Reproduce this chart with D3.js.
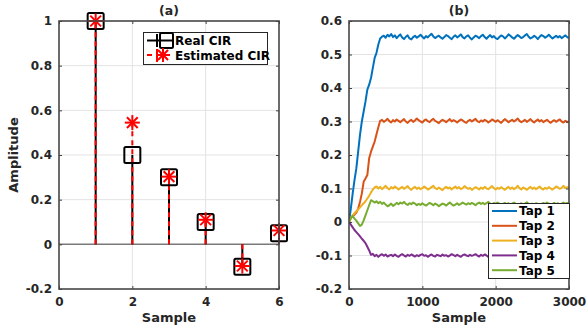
<!DOCTYPE html>
<html>
<head>
<meta charset="utf-8">
<script src="https://cdn.jsdelivr.net/npm/d3@7"></script>
<style>
  body { margin: 0; background: #fff; }
  svg { display: block; font-family: "DejaVu Sans", sans-serif; font-weight: bold; }
  .tick text { fill: #262626; font-size: 12px; font-weight: bold; font-family: "DejaVu Sans", sans-serif; }
  .tick line { stroke: #404040; stroke-width: 1; }
  .domain { display: none; }
</style>
</head>
<body>
<svg id="chart" width="587" height="329"></svg>
<script>
// panel (a): stem plot of channel impulse response
const sampleIdx = [1, 2, 3, 4, 5, 6];
const realCIR = [1, 0.4, 0.3, 0.1, -0.1, 0.05];
const estCIR = [1, 0.545, 0.303, 0.11, -0.097, 0.062];
const aXTicks = [0, 2, 4, 6];
const aYTicks = [-0.2, 0, 0.2, 0.4, 0.6, 0.8, 1];

// panel (b): tap convergence, one value every tapStep samples
const tapStep = 25;
const tapNames = ["Tap 1", "Tap 2", "Tap 3", "Tap 4", "Tap 5"];
const tap1 = [0, 0.04, 0.085, 0.125, 0.16, 0.21, 0.26, 0.3, 0.33, 0.36, 0.395, 0.41, 0.43, 0.46, 0.49, 0.505, 0.53, 0.548,
  0.553, 0.556, 0.550, 0.559, 0.554, 0.561, 0.552, 0.557, 0.549, 0.555,
  0.560, 0.551, 0.546, 0.553, 0.557, 0.548, 0.545, 0.552, 0.556, 0.550,
  0.554, 0.559, 0.553, 0.548, 0.555, 0.551, 0.557, 0.562, 0.554, 0.549,
  0.553, 0.556, 0.551, 0.547, 0.552, 0.558, 0.555, 0.550, 0.546, 0.553,
  0.557, 0.551, 0.555, 0.560, 0.552, 0.548, 0.554, 0.557, 0.550, 0.545,
  0.551, 0.556, 0.553, 0.549, 0.555, 0.559, 0.552, 0.547, 0.553, 0.558,
  0.551, 0.555, 0.549, 0.546, 0.552, 0.557, 0.554, 0.548, 0.553, 0.560,
  0.556, 0.551, 0.547, 0.553, 0.558, 0.554, 0.549, 0.552, 0.557, 0.561,
  0.553, 0.548, 0.551, 0.556, 0.552, 0.546, 0.553, 0.558, 0.555, 0.550,
  0.554, 0.559, 0.553, 0.548, 0.552, 0.556, 0.551, 0.555, 0.549, 0.553,
  0.557, 0.552, 0.549];
const tap2 = [0, 0.012, 0.018, 0.022, 0.028, 0.04, 0.06, 0.085, 0.12, 0.13, 0.14, 0.19, 0.21, 0.225, 0.24, 0.262, 0.283, 0.302,
  0.305, 0.299, 0.303, 0.308, 0.301, 0.297, 0.304, 0.300, 0.306, 0.302,
  0.298, 0.303, 0.307, 0.300, 0.296, 0.302, 0.305, 0.299, 0.303, 0.309,
  0.304, 0.300, 0.297, 0.303, 0.306, 0.301, 0.298, 0.304, 0.308, 0.302,
  0.299, 0.295, 0.301, 0.305, 0.302, 0.298, 0.303, 0.307, 0.300, 0.304,
  0.301, 0.297, 0.302, 0.306, 0.303, 0.299, 0.296, 0.302, 0.305, 0.300,
  0.304, 0.308, 0.301, 0.298, 0.303, 0.300, 0.305, 0.302, 0.297, 0.301,
  0.306, 0.303, 0.299, 0.304, 0.300, 0.296, 0.302, 0.307, 0.303, 0.298,
  0.302, 0.305, 0.300, 0.304, 0.309, 0.302, 0.298, 0.301, 0.305, 0.299,
  0.303, 0.307, 0.301, 0.297, 0.302, 0.306, 0.300, 0.304, 0.298, 0.302,
  0.305, 0.300, 0.296, 0.301, 0.304, 0.299, 0.303, 0.306, 0.300, 0.297,
  0.302, 0.298, 0.301];
const tap3 = [0, 0.012, 0.02, 0.026, 0.032, 0.037, 0.044, 0.05, 0.056, 0.062, 0.07, 0.078, 0.088, 0.097, 0.103, 0.106,
  0.100, 0.105, 0.098, 0.103, 0.108, 0.101, 0.097, 0.104, 0.100, 0.106,
  0.102, 0.097, 0.101, 0.105, 0.099, 0.103, 0.107, 0.100, 0.096, 0.102,
  0.105, 0.099, 0.103, 0.098, 0.101, 0.106, 0.102, 0.097, 0.100, 0.104,
  0.108, 0.101, 0.098, 0.103, 0.099, 0.095, 0.101, 0.105, 0.100, 0.103,
  0.097, 0.102, 0.106, 0.100, 0.104, 0.098, 0.101, 0.107, 0.103, 0.099,
  0.102, 0.096, 0.100, 0.104, 0.101, 0.097, 0.103, 0.099, 0.105, 0.100,
  0.098, 0.103, 0.107, 0.101, 0.097, 0.102, 0.099, 0.104, 0.100, 0.096,
  0.101, 0.105, 0.099, 0.103, 0.098, 0.102, 0.108, 0.101, 0.097, 0.103,
  0.100, 0.096, 0.101, 0.105, 0.099, 0.103, 0.098, 0.102, 0.106, 0.100,
  0.097, 0.102, 0.099, 0.104, 0.100, 0.097, 0.101, 0.106, 0.103, 0.099,
  0.102, 0.108, 0.101, 0.104, 0.103];
const tap4 = [0, -0.008, -0.016, -0.024, -0.03, -0.036, -0.043, -0.05, -0.056, -0.063, -0.074, -0.085, -0.098,
  -0.095, -0.102, -0.098, -0.104, -0.099, -0.096, -0.101, -0.097, -0.103, -0.100,
  -0.098, -0.102, -0.097, -0.101, -0.104, -0.099, -0.096, -0.100, -0.103, -0.098,
  -0.101, -0.097, -0.100, -0.103, -0.099, -0.102, -0.098, -0.096, -0.101, -0.099,
  -0.104, -0.100, -0.097, -0.101, -0.103, -0.098, -0.100, -0.102, -0.097, -0.101,
  -0.099, -0.103, -0.100, -0.096, -0.099, -0.102, -0.098, -0.101, -0.104, -0.099,
  -0.097, -0.100, -0.102, -0.098, -0.101, -0.099, -0.096, -0.100, -0.103, -0.098,
  -0.101, -0.097, -0.100, -0.104, -0.099, -0.102, -0.098, -0.100, -0.097, -0.101,
  -0.103, -0.099, -0.096, -0.100, -0.102, -0.098, -0.101, -0.099, -0.104, -0.100,
  -0.097, -0.101, -0.099, -0.102, -0.098, -0.096, -0.100, -0.103, -0.099, -0.101,
  -0.098, -0.102, -0.100, -0.097, -0.101, -0.104, -0.099, -0.100, -0.096, -0.101,
  -0.099, -0.103, -0.100, -0.097, -0.101, -0.098, -0.102, -0.099];
const tap5 = [0, 0.012, 0.018, 0.01, 0.004, -0.004, -0.012, -0.008, 0.005, 0.02, 0.035, 0.05, 0.065, 0.062,
  0.058, 0.062, 0.056, 0.060, 0.054, 0.058, 0.052, 0.047, 0.050, 0.055,
  0.048, 0.052, 0.057, 0.053, 0.058, 0.055, 0.060, 0.054, 0.051, 0.056,
  0.053, 0.058, 0.055, 0.050, 0.054, 0.051, 0.056, 0.052, 0.049, 0.053,
  0.057, 0.054, 0.050, 0.055, 0.052, 0.047, 0.051, 0.055, 0.053, 0.049,
  0.054, 0.058, 0.053, 0.049, 0.052, 0.056, 0.051, 0.054, 0.058, 0.055,
  0.052, 0.056, 0.053, 0.057, 0.054, 0.050, 0.055, 0.058, 0.054, 0.057,
  0.053, 0.056, 0.060, 0.055, 0.052, 0.057, 0.054, 0.058, 0.055, 0.051,
  0.054, 0.057, 0.053, 0.056, 0.052, 0.055, 0.058, 0.054, 0.050, 0.053,
  0.056, 0.052, 0.055, 0.059, 0.054, 0.051, 0.055, 0.052, 0.056, 0.053,
  0.049, 0.053, 0.057, 0.054, 0.058, 0.055, 0.051, 0.054, 0.057, 0.053,
  0.056, 0.052, 0.055, 0.058, 0.054, 0.057, 0.053];
const taps = [tap1, tap2, tap3, tap4, tap5];
const tapColors = ["#0072BD", "#D95319", "#EDB120", "#7E2F8E", "#77AC30"];
const bXTicks = [0, 1000, 2000, 3000];
const bYTicks = [-0.2, -0.1, 0, 0.1, 0.2, 0.3, 0.4, 0.5, 0.6];

const svg = d3.select("#chart");
svg.append("rect").attr("width", 587).attr("height", 329).attr("fill", "#fff");

const yTop = 21, yBottom = 289;
const gridColor = "#e3e3e3";
const boxColor = "#474747";

function drawFrame(g, x, y, xTicks, yTicks) {
  let [x0, x1] = x.range();
  g.append("g").selectAll("line").data(xTicks.filter(d => x(d) > x0 + 1 && x(d) < x1 - 1)).enter()
    .append("line")
    .attr("x1", d => x(d)).attr("x2", d => x(d))
    .attr("y1", yTop).attr("y2", yBottom)
    .attr("stroke", gridColor).attr("stroke-width", 1);
  g.append("g").selectAll("line").data(yTicks.filter(d => y(d) > yTop + 1 && y(d) < yBottom - 1)).enter()
    .append("line")
    .attr("x1", x0).attr("x2", x1)
    .attr("y1", d => y(d)).attr("y2", d => y(d))
    .attr("stroke", gridColor).attr("stroke-width", 1);
}

function drawAxes(g, x, y, xTicks, yTicks) {
  let [x0, x1] = x.range();
  let fmt = d => String(d);
  g.append("g").attr("transform", `translate(0,${yBottom})`)
    .call(d3.axisBottom(x).tickValues(xTicks).tickFormat(fmt).tickSizeInner(-3).tickSizeOuter(0).tickPadding(8));
  g.append("g").attr("transform", `translate(0,${yTop})`)
    .call(d3.axisTop(x).tickValues(xTicks).tickFormat("").tickSizeInner(-3).tickSizeOuter(0));
  g.append("g").attr("transform", `translate(${x0},0)`)
    .call(d3.axisLeft(y).tickValues(yTicks).tickFormat(fmt).tickSizeInner(-3).tickSizeOuter(0).tickPadding(7));
  g.append("g").attr("transform", `translate(${x1},0)`)
    .call(d3.axisRight(y).tickValues(yTicks).tickFormat("").tickSizeInner(-3).tickSizeOuter(0));
  g.append("rect")
    .attr("x", x0).attr("y", yTop)
    .attr("width", x1 - x0).attr("height", yBottom - yTop)
    .attr("fill", "none").attr("stroke", boxColor).attr("stroke-width", 1.6);
}

function label(text, x, y, size, rotate) {
  let t = svg.append("text")
    .attr("text-anchor", "middle")
    .attr("font-size", size)
    .attr("fill", "#262626")
    .text(text);
  if (rotate) t.attr("transform", `translate(${x},${y}) rotate(-90)`);
  else t.attr("x", x).attr("y", y);
}

function asterisk(sel, r) {
  let d = r * 0.72;
  sel.append("line").attr("x1", -r).attr("x2", r).attr("y1", 0).attr("y2", 0);
  sel.append("line").attr("x1", 0).attr("x2", 0).attr("y1", -r).attr("y2", r);
  sel.append("line").attr("x1", -d).attr("x2", d).attr("y1", -d).attr("y2", d);
  sel.append("line").attr("x1", -d).attr("x2", d).attr("y1", d).attr("y2", -d);
}

// ---- panel (a)
let xa = d3.scaleLinear().domain([0, 6]).range([59, 279]);
let ya = d3.scaleLinear().domain([-0.2, 1]).range([yBottom, yTop]);
let ga = svg.append("g");
drawFrame(ga, xa, ya, aXTicks, aYTicks);

// stem baseline
ga.append("line")
  .attr("x1", xa(0)).attr("x2", xa(6))
  .attr("y1", ya(0)).attr("y2", ya(0))
  .attr("stroke", "#7a7a7a").attr("stroke-width", 1.5);

ga.append("g").selectAll("line").data(sampleIdx).enter()
  .append("line")
  .attr("x1", d => xa(d)).attr("x2", d => xa(d))
  .attr("y1", ya(0)).attr("y2", (d, i) => ya(realCIR[i]))
  .attr("stroke", "#000").attr("stroke-width", 2);

ga.append("g").selectAll("line").data(sampleIdx).enter()
  .append("line")
  .attr("x1", d => xa(d)).attr("x2", d => xa(d))
  .attr("y1", ya(0)).attr("y2", (d, i) => ya(estCIR[i]))
  .attr("stroke", "#ff0000").attr("stroke-width", 2)
  .attr("stroke-dasharray", "5,4");

const sq = 16;
ga.append("g").selectAll("rect").data(sampleIdx).enter()
  .append("rect")
  .attr("x", d => xa(d) - sq / 2)
  .attr("y", (d, i) => ya(realCIR[i]) - sq / 2)
  .attr("width", sq).attr("height", sq).attr("rx", 1.5)
  .attr("fill", "none").attr("stroke", "#000").attr("stroke-width", 2);

ga.append("g").selectAll("g").data(sampleIdx).enter()
  .append("g")
  .attr("transform", (d, i) => `translate(${xa(d)},${ya(estCIR[i])})`)
  .attr("stroke", "#ff0000").attr("stroke-width", 2)
  .each(function () { asterisk(d3.select(this), 7.5); });

drawAxes(ga, xa, ya, aXTicks, aYTicks);

// legend (a)
let la = ga.append("g");
la.append("rect").attr("x", 143.5).attr("y", 32.5).attr("width", 124).attr("height", 32)
  .attr("fill", "#fff").attr("stroke", "#262626").attr("stroke-width", 1);
la.append("line").attr("x1", 147).attr("x2", 172).attr("y1", 40.5).attr("y2", 40.5)
  .attr("stroke", "#000").attr("stroke-width", 2);
la.append("line").attr("x1", 157).attr("x2", 157).attr("y1", 34).attr("y2", 47)
  .attr("stroke", "#000").attr("stroke-width", 2);
la.append("rect").attr("x", 160).attr("y", 33).attr("width", 13).attr("height", 15).attr("rx", 1.5)
  .attr("fill", "none").attr("stroke", "#000").attr("stroke-width", 2);
la.append("text").attr("x", 175).attr("y", 45).attr("font-size", 12).attr("fill", "#000").text("Real CIR");
la.append("line").attr("x1", 147).attr("x2", 172).attr("y1", 55).attr("y2", 55)
  .attr("stroke", "#ff0000").attr("stroke-width", 2).attr("stroke-dasharray", "5,4");
la.append("line").attr("x1", 157).attr("x2", 157).attr("y1", 49).attr("y2", 62)
  .attr("stroke", "#ff0000").attr("stroke-width", 2);
la.append("g").attr("transform", "translate(163,55)")
  .attr("stroke", "#ff0000").attr("stroke-width", 2)
  .each(function () { asterisk(d3.select(this), 7); });
la.append("text").attr("x", 175).attr("y", 59.5).attr("font-size", 12).attr("fill", "#000").text("Estimated CIR");

label("(a)", xa(3), 15, 12.5);
label("Sample", xa(3), 322, 13);
label("Amplitude", 18, (yTop + yBottom) / 2, 13, true);

// ---- panel (b)
let xb = d3.scaleLinear().domain([0, 3000]).range([349, 569]);
let yb = d3.scaleLinear().domain([-0.2, 0.6]).range([yBottom, yTop]);
let gb = svg.append("g");
drawFrame(gb, xb, yb, bXTicks, bYTicks);

svg.append("defs").append("clipPath").attr("id", "clipb")
  .append("rect").attr("x", 349).attr("y", yTop).attr("width", 220).attr("height", yBottom - yTop);

let line = d3.line()
  .x((d, i) => xb(i * tapStep))
  .y(d => yb(d));

gb.append("g").attr("clip-path", "url(#clipb)")
  .selectAll("path").data(taps).enter()
  .append("path")
  .attr("d", line)
  .attr("fill", "none")
  .attr("stroke", (d, i) => tapColors[i])
  .attr("stroke-width", 2)
  .attr("stroke-linejoin", "round");

drawAxes(gb, xb, yb, bXTicks, bYTicks);

let lb = gb.append("g");
lb.append("rect").attr("x", 488.5).attr("y", 203.5).attr("width", 81).attr("height", 75)
  .attr("fill", "#fff").attr("stroke", "#262626").attr("stroke-width", 1);
tapNames.forEach((name, i) => {
  let yy = 211 + i * 14.8;
  lb.append("line").attr("x1", 492).attr("x2", 517).attr("y1", yy).attr("y2", yy)
    .attr("stroke", tapColors[i]).attr("stroke-width", 2);
  lb.append("text").attr("x", 519).attr("y", yy + 4.3).attr("font-size", 12).attr("fill", "#000").text(name);
});

label("(b)", xb(1500), 15, 12.5);
label("Sample", xb(1500), 322, 13);
</script>
</body>
</html>
